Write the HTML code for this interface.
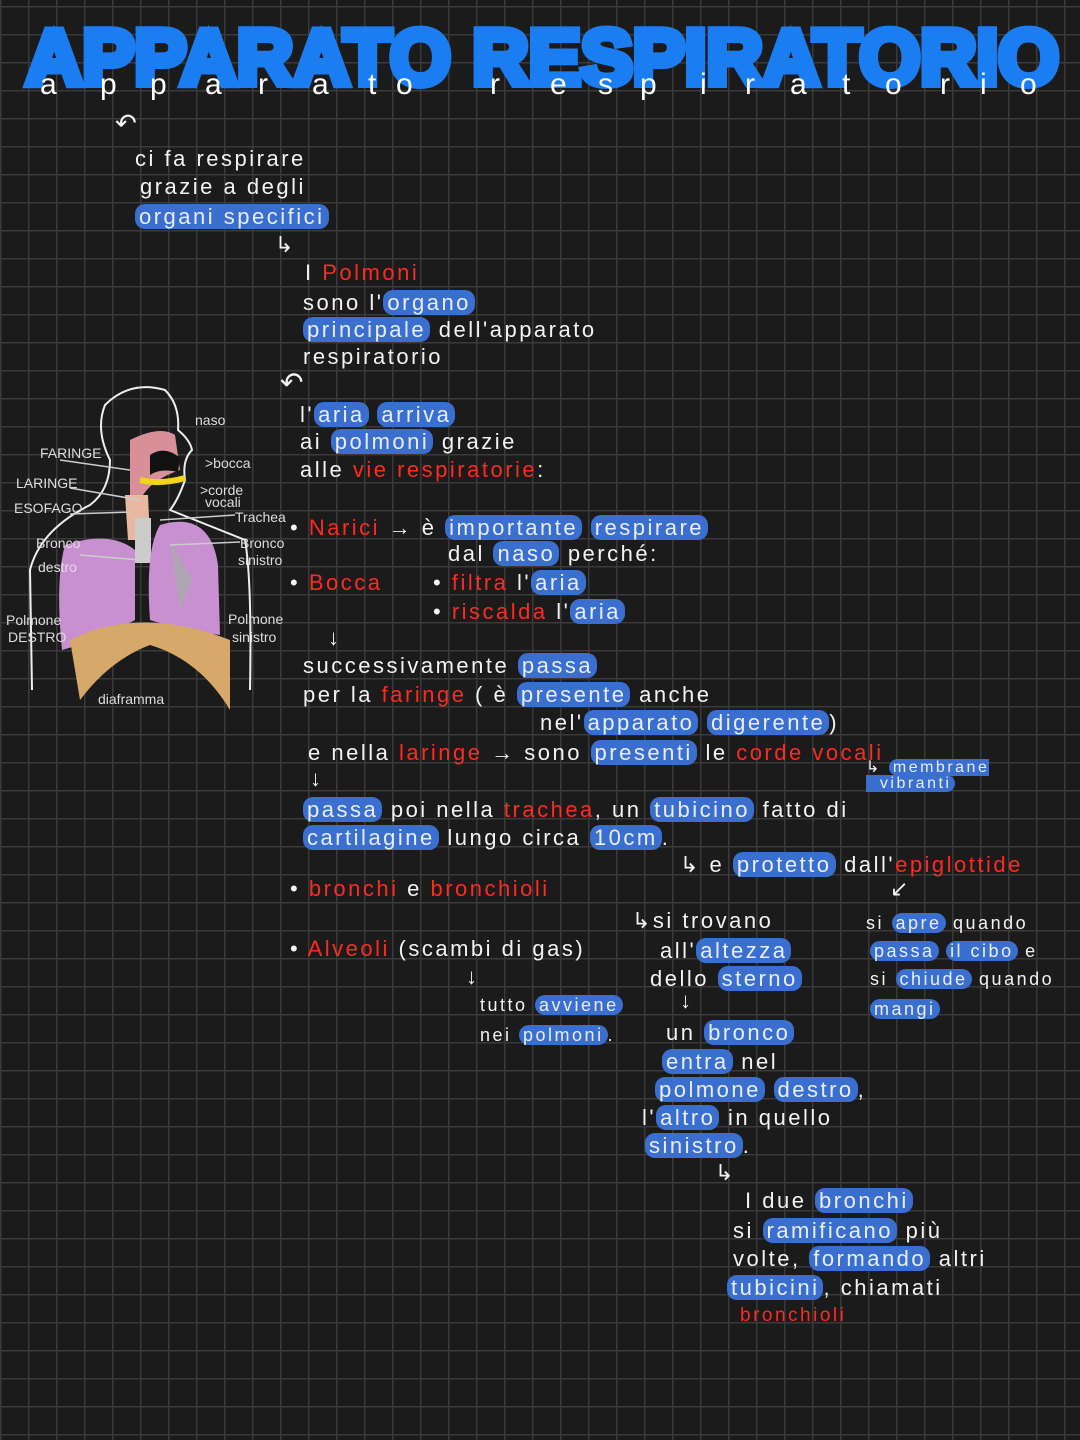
<!DOCTYPE html>
<html><head><meta charset="utf-8"><style>
html,body{margin:0;padding:0}
body{width:1080px;height:1440px;position:relative;overflow:hidden;background-color:#1b1b1c;
background-image:linear-gradient(#3a3a3b 1.5px,transparent 1.5px),linear-gradient(90deg,#3a3a3b 1.5px,transparent 1.5px);
background-size:28px 28px;background-position:0 6px,0 0;font-family:"Liberation Sans",sans-serif;color:#f2f2f2}
.t{position:absolute;white-space:nowrap;font-size:22px;letter-spacing:2.5px;line-height:26px}
.r{color:#ff2a1f}
.h{background:#3a6fd0;border-radius:10px;padding:0 4px;color:#e9eefc}
.title{position:absolute;left:26px;top:12px;font-size:78px;font-weight:bold;color:#1a7ef2;letter-spacing:0px;font-family:"Liberation Sans",sans-serif;-webkit-text-stroke:8px #1a7ef2;white-space:nowrap}
.sub{position:absolute;top:68px;font-size:30px;color:#fff;letter-spacing:0}
.s{font-size:16px}
</style></head><body>
<div class="title">APPARATO RESPIRATORIO</div>
<div class="sub" style="left:40px">a</div><div class="sub" style="left:100px">p</div><div class="sub" style="left:150px">p</div><div class="sub" style="left:205px">a</div><div class="sub" style="left:258px">r</div><div class="sub" style="left:312px">a</div><div class="sub" style="left:368px">t</div><div class="sub" style="left:396px">o</div>
<div class="sub" style="left:490px">r</div><div class="sub" style="left:550px">e</div><div class="sub" style="left:598px">s</div><div class="sub" style="left:640px">p</div><div class="sub" style="left:700px">i</div><div class="sub" style="left:745px">r</div><div class="sub" style="left:790px">a</div><div class="sub" style="left:842px">t</div><div class="sub" style="left:885px">o</div><div class="sub" style="left:940px">r</div><div class="sub" style="left:980px">i</div><div class="sub" style="left:1020px">o</div>

<div class="t" style="left:115px;top:110px;font-size:26px">↶</div>
<div class="t" style="left:135px;top:146px">ci fa respirare</div>
<div class="t" style="left:140px;top:174px">grazie a degli</div>
<div class="t" style="left:135px;top:204px"><span class="h">organi specifici</span></div>
<div class="t" style="left:275px;top:232px">↳</div>
<div class="t" style="left:305px;top:260px">I <span class="r">Polmoni</span></div>
<div class="t" style="left:303px;top:290px">sono l'<span class="h">organo</span></div>
<div class="t" style="left:303px;top:317px"><span class="h">principale</span> dell'apparato</div>
<div class="t" style="left:303px;top:344px">respiratorio</div>
<div class="t" style="left:280px;top:370px;font-size:28px">↶</div>
<div class="t" style="left:300px;top:402px">l'<span class="h">aria</span> <span class="h">arriva</span></div>
<div class="t" style="left:300px;top:429px">ai <span class="h">polmoni</span> grazie</div>
<div class="t" style="left:300px;top:457px">alle <span class="r">vie respiratorie</span>:</div>

<div class="t" style="left:290px;top:515px">• <span class="r">Narici</span> → è <span class="h">importante</span> <span class="h">respirare</span></div>
<div class="t" style="left:448px;top:541px">dal <span class="h">naso</span> perché:</div>
<div class="t" style="left:290px;top:570px">• <span class="r">Bocca</span></div>
<div class="t" style="left:433px;top:570px">• <span class="r">filtra</span> l'<span class="h">aria</span></div>
<div class="t" style="left:433px;top:599px">• <span class="r">riscalda</span> l'<span class="h">aria</span></div>
<div class="t" style="left:328px;top:625px">↓</div>
<div class="t" style="left:303px;top:653px">successivamente <span class="h">passa</span></div>
<div class="t" style="left:303px;top:682px">per la <span class="r">faringe</span> ( è <span class="h">presente</span> anche</div>
<div class="t" style="left:540px;top:710px">nel'<span class="h">apparato</span> <span class="h">digerente</span>)</div>
<div class="t" style="left:308px;top:740px">e nella <span class="r">laringe</span> → sono <span class="h">presenti</span> le <span class="r">corde vocali</span></div>
<div class="t s" style="left:866px;top:760px;line-height:16px">↳ <span class="h">membrane<br>&nbsp;&nbsp;vibranti</span></div>
<div class="t" style="left:310px;top:766px">↓</div>
<div class="t" style="left:303px;top:797px"><span class="h">passa</span> poi nella <span class="r">trachea</span>, un <span class="h">tubicino</span> fatto di</div>
<div class="t" style="left:303px;top:825px"><span class="h">cartilagine</span> lungo circa <span class="h">10cm</span>.</div>
<div class="t" style="left:680px;top:852px">↳ e <span class="h">protetto</span> dall'<span class="r">epiglottide</span></div>
<div class="t" style="left:290px;top:876px">• <span class="r">bronchi</span> e <span class="r">bronchioli</span></div>
<div class="t" style="left:890px;top:876px">↙</div>
<div class="t" style="left:632px;top:908px">↳si trovano</div>
<div class="t" style="left:866px;top:910px;font-size:18px">si <span class="h">apre</span> quando</div>
<div class="t" style="left:870px;top:938px;font-size:18px"><span class="h">passa</span> <span class="h">il cibo</span> e</div>
<div class="t" style="left:870px;top:966px;font-size:18px">si <span class="h">chiude</span> quando</div>
<div class="t" style="left:870px;top:996px;font-size:18px"><span class="h">mangi</span></div>
<div class="t" style="left:290px;top:936px">• <span class="r">Alveoli</span> (scambi di gas)</div>
<div class="t" style="left:660px;top:938px">all'<span class="h">altezza</span></div>
<div class="t" style="left:650px;top:966px">dello <span class="h">sterno</span></div>
<div class="t" style="left:466px;top:964px">↓</div>
<div class="t" style="left:680px;top:988px">↓</div>
<div class="t" style="left:480px;top:992px;font-size:18px">tutto <span class="h">avviene</span></div>
<div class="t" style="left:480px;top:1022px;font-size:18px">nei <span class="h">polmoni</span>.</div>
<div class="t" style="left:666px;top:1020px">un <span class="h">bronco</span></div>
<div class="t" style="left:662px;top:1049px"><span class="h">entra</span> nel</div>
<div class="t" style="left:655px;top:1077px"><span class="h">polmone</span> <span class="h">destro</span>,</div>
<div class="t" style="left:642px;top:1105px">l'<span class="h">altro</span> in quello</div>
<div class="t" style="left:645px;top:1133px"><span class="h">sinistro</span>.</div>
<div class="t" style="left:715px;top:1160px">↳</div>
<div class="t" style="left:745px;top:1188px">I due <span class="h">bronchi</span></div>
<div class="t" style="left:733px;top:1218px">si <span class="h">ramificano</span> più</div>
<div class="t" style="left:733px;top:1246px">volte, <span class="h">formando</span> altri</div>
<div class="t" style="left:727px;top:1275px"><span class="h">tubicini</span>, chiamati</div>
<div class="t r" style="left:740px;top:1303px;font-size:19px">bronchioli</div>

<svg style="position:absolute;left:0;top:380px" width="320" height="340" viewBox="0 0 320 340">
<g fill="none" stroke="#eee" stroke-width="2">
<path d="M32,310 L30,190 Q40,150 90,125 Q110,110 110,80 Q95,50 105,25 Q130,0 165,10 Q180,25 178,50 Q190,60 192,70 Q182,80 185,100 Q178,120 170,130 Q220,150 245,160 Q252,200 250,310"/>
</g>
<path d="M130,60 Q160,45 175,55 L180,90 Q150,100 140,120 L130,120 Z" fill="#d88f98"/>
<path d="M150,75 Q165,65 180,78 L178,92 Q160,88 150,95Z" fill="#111"/>
<path d="M140,100 Q160,105 185,98" stroke="#f2d419" stroke-width="6" fill="none"/>
<path d="M125,115 L148,115 L150,160 L128,160Z" fill="#e8b9a0"/>
<rect x="135" y="138" width="16" height="45" fill="#ccc"/>
<path d="M65,165 Q110,150 135,170 L135,240 Q100,260 62,270 Q55,200 65,165Z" fill="#c890d0"/>
<path d="M160,145 Q210,130 218,185 L220,255 Q180,250 150,240 Q145,170 160,145Z" fill="#c890d0"/>
<path d="M170,160 L180,230 L192,200Z" fill="#aaa" opacity=".8"/>
<path d="M70,260 Q140,225 230,260 L230,330 Q200,280 150,265 Q110,280 80,320 Z" fill="#d6a96b"/>
<g fill="#ddd" font-size="14" font-family="Liberation Sans">
<text x="195" y="45">naso</text><text x="205" y="88">&gt;bocca</text>
<text x="40" y="78">FARINGE</text><text x="16" y="108">LARINGE</text><text x="14" y="133">ESOFAGO</text>
<text x="200" y="115">&gt;corde</text><text x="205" y="127">vocali</text><text x="235" y="142">Trachea</text>
<text x="36" y="168">Bronco</text><text x="38" y="192">destro</text>
<text x="240" y="168">Bronco</text><text x="238" y="185">sinistro</text>
<text x="6" y="245">Polmone</text><text x="8" y="262">DESTRO</text>
<text x="228" y="244">Polmone</text><text x="232" y="262">sinistro</text>
<text x="98" y="324">diaframma</text>
</g>
<g stroke="#ccc" stroke-width="1.5"><line x1="60" y1="80" x2="130" y2="90"/><line x1="70" y1="108" x2="140" y2="120"/><line x1="70" y1="134" x2="130" y2="132"/><line x1="80" y1="175" x2="140" y2="180"/><line x1="160" y1="140" x2="235" y2="135"/><line x1="170" y1="165" x2="240" y2="162"/></g>
</svg>
</body></html>
